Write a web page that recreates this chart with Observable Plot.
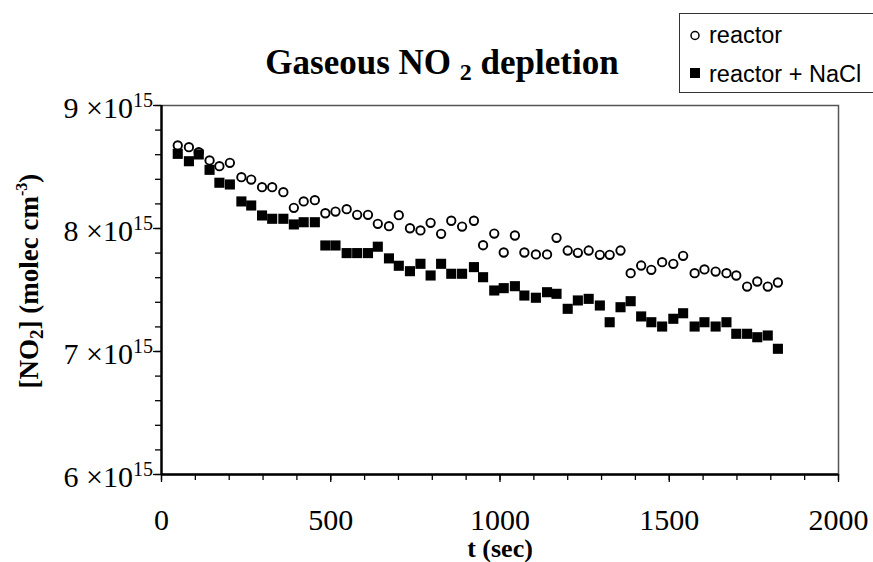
<!DOCTYPE html>
<html><head><meta charset="utf-8">
<script src="https://cdn.jsdelivr.net/npm/d3@7"></script>
<script src="https://cdn.jsdelivr.net/npm/@observablehq/plot@0.6"></script>
<style>body{margin:0;background:#fff}#chart{width:873px;height:562px}</style>
</head><body><div id="chart"></div>
<script>
// time (s)
const timeSec = [48,81,110,142,171,202,236,265,297,327,360,391,420,453,484,514,547,578,610,639,672,701,734,765,795,826,856,888,923,950,983,1011,1044,1072,1106,1139,1167,1200,1230,1262,1295,1324,1356,1386,1417,1447,1479,1512,1541,1575,1604,1637,1669,1698,1730,1760,1791,1821];
// [NO2] in units of 1e15 molec cm^-3
const reactor = [8.675,8.661,8.62,8.553,8.507,8.534,8.417,8.398,8.336,8.336,8.295,8.168,8.22,8.23,8.124,8.138,8.157,8.111,8.111,8.038,8.019,8.108,8.002,7.984,8.046,7.957,8.063,8.016,8.063,7.864,7.959,7.805,7.943,7.805,7.789,7.789,7.924,7.821,7.802,7.821,7.786,7.786,7.821,7.637,7.699,7.664,7.726,7.713,7.778,7.637,7.667,7.650,7.637,7.618,7.528,7.569,7.528,7.561];
const reactorNaCl = [8.607,8.547,8.602,8.477,8.372,8.358,8.22,8.187,8.106,8.079,8.079,8.033,8.051,8.051,7.862,7.862,7.80,7.80,7.80,7.852,7.757,7.697,7.653,7.713,7.618,7.713,7.632,7.632,7.686,7.604,7.496,7.515,7.531,7.455,7.437,7.482,7.469,7.347,7.415,7.428,7.374,7.238,7.360,7.409,7.285,7.238,7.203,7.266,7.311,7.203,7.238,7.203,7.238,7.144,7.144,7.116,7.130,7.022];
const xTicks = [0,500,1000,1500,2000];
const xMinorTicks = [0,100,200,300,400,500,600,700,800,900,1000,1100,1200,1300,1400,1500,1600,1700,1800,1900,2000];
const yTicks = [6,7,8,9];
const yMinorTicks = [6,6.2,6.4,6.6,6.8,7,7.2,7.4,7.6,7.8,8,8.2,8.4,8.6,8.8,9];
const yExponent = "15";
const seriesNames = ["reactor","reactor + NaCl"];

const rows = timeSec.map((t,i)=>({t, reactor: reactor[i], nacl: reactorNaCl[i]}));
const serif = "'Liberation Serif','Times New Roman',serif";
const sans = "'Liberation Sans',Arial,sans-serif";

const plot = Plot.plot({
  width: 873, height: 562,
  marginLeft: 161, marginRight: 35, marginTop: 105, marginBottom: 88,
  x: {domain: [0, 2000]},
  y: {domain: [6, 9]},
  style: {fontFamily: serif, background: "white", color: "black", overflow: "visible"},
  marks: [
    Plot.frame({stroke: "#555", strokeWidth: 1.5}),
    Plot.axisX(xMinorTicks, {tickSize: 6, tickFormat: () => "", strokeWidth: 1.3, label: null}),
    Plot.axisX(xTicks, {tickSize: 8, tickPadding: 26, fontSize: 30, strokeWidth: 1.3, label: null,
      tickFormat: d => String(d)}),
    Plot.axisY(yMinorTicks, {tickSize: 6, tickFormat: () => "", strokeWidth: 1.3, label: null}),
    Plot.axisY(yTicks, {tickSize: 8, tickFormat: () => "", strokeWidth: 1.3, label: null}),
    Plot.ruleY([6], {strokeWidth: 2.4}),
    Plot.ruleX([0], {strokeWidth: 2.4}),
    Plot.dot(rows, {x: "t", y: "reactor", r: 4.2, stroke: "black", strokeWidth: 1.9, fill: "white"}),
    Plot.dot(rows, {x: "t", y: "nacl", symbol: "square", r: 5.7, fill: "black", stroke: "none"})
  ]
});

const svg = d3.select(plot);
const yScale = plot.scale("y");

// y tick labels with superscript exponent, positioned through the plot's y scale
const ylab = svg.append("g").attr("font-family", serif).attr("text-anchor", "end");
yTicks.forEach(v => {
  const t = ylab.append("text").attr("x", 153).attr("y", yScale.apply(v) + 13)
    .style("font-size", "30px");
  t.append("tspan").text(`${v} \u00d710`);
  t.append("tspan").attr("dy", -11).style("font-size", "20px").text(yExponent);
});

// title
const title = svg.append("text").attr("x", 442).attr("y", 74).attr("text-anchor", "middle")
  .attr("font-family", serif).attr("font-weight", "bold").style("font-size", "35px");
title.append("tspan").text("Gaseous NO ");
title.append("tspan").style("font-size", "24px").attr("dy", 6).text("2");
title.append("tspan").attr("dy", -6).text(" depletion");

// x label
svg.append("text").attr("x", 500).attr("y", 557).attr("text-anchor", "middle")
  .attr("font-family", serif).attr("font-weight", "bold").style("font-size", "26px").text("t (sec)");

// y label
const yl = svg.append("text").attr("transform", "translate(38,281) rotate(-90)").attr("text-anchor", "middle")
  .attr("font-family", serif).attr("font-weight", "bold").style("font-size", "27px");
yl.append("tspan").text("[NO");
yl.append("tspan").style("font-size", "19px").attr("dy", 5).text("2");
yl.append("tspan").attr("dy", -5).text("] (molec cm");
yl.append("tspan").style("font-size", "16px").attr("dy", -11).text("-3");
yl.append("tspan").attr("dy", 11).text(")");

// legend
const lg = svg.append("g").attr("text-anchor", "start");
lg.append("rect").attr("x", 679.5).attr("y", 13.5).attr("width", 220).attr("height", 79)
  .attr("fill", "white").attr("stroke", "#333").attr("stroke-width", 1);
lg.append("circle").attr("cx", 695).attr("cy", 35.5).attr("r", 4).attr("fill", "white").attr("stroke", "black").attr("stroke-width", 1.5);
lg.append("text").attr("x", 709).attr("y", 43).attr("font-family", sans).style("font-size", "23.5px").text(seriesNames[0]);
lg.append("rect").attr("x", 690).attr("y", 68).attr("width", 10).attr("height", 10).attr("fill", "black");
lg.append("text").attr("x", 709).attr("y", 82).attr("font-family", sans).style("font-size", "23.5px").text(seriesNames[1]);

document.getElementById("chart").append(plot);
</script>
</body></html>
